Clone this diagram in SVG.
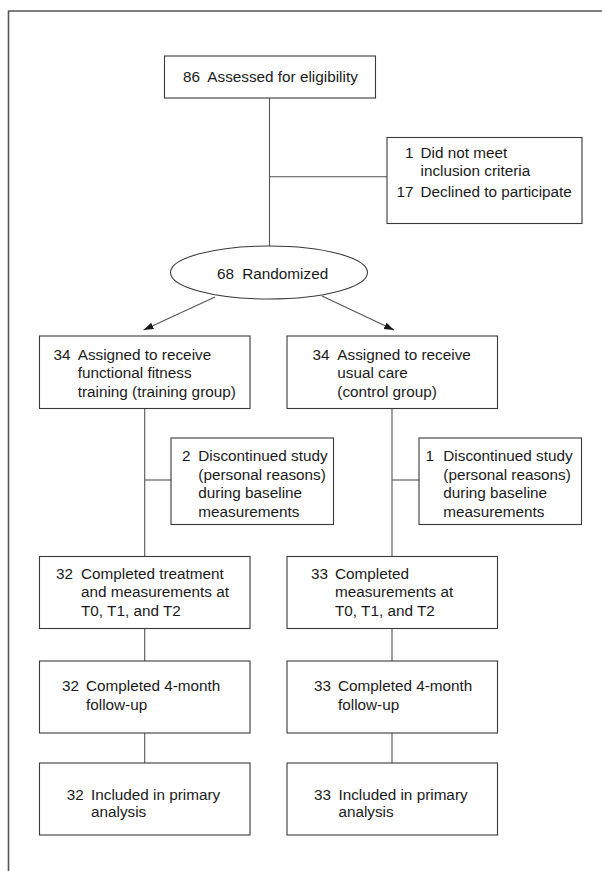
<svg xmlns="http://www.w3.org/2000/svg" width="602" height="871" viewBox="0 0 602 871">
<defs>
<style>
.box{fill:#fff;stroke:#3a3a3a;stroke-width:1.1}
.ln{fill:none;stroke:#555;stroke-width:1.1}
.frame{fill:none;stroke:#555;stroke-width:1.6}
text{font-family:"Liberation Sans",Arial,sans-serif;font-size:15.3px;fill:#1a1a1a}
.num{text-anchor:end}
</style>
<marker id="ah" markerUnits="userSpaceOnUse" markerWidth="11" markerHeight="8" refX="10" refY="3.5" orient="auto">
<path d="M0,0 L10,3.5 L0,7 z" fill="#1a1a1a"/>
</marker>
</defs>
<rect width="602" height="871" fill="#fff"/>
<path class="frame" d="M602,11 H8.5 V871"/>

<g id="connectors">
<path class="ln" d="M269.5,98 V246"/>
<path class="ln" d="M269.5,176.7 H387"/>
<path class="ln" d="M215,297 L143.5,330" marker-end="url(#ah)"/>
<path class="ln" d="M322,296 L394,330" marker-end="url(#ah)"/>
<path class="ln" d="M144.7,408.5 V556.5"/>
<path class="ln" d="M144.7,480 H171"/>
<path class="ln" d="M392,408.5 V556.5"/>
<path class="ln" d="M392,480 H419"/>
<path class="ln" d="M144.7,628.5 V661"/>
<path class="ln" d="M392,628.5 V661"/>
<path class="ln" d="M144.7,733 V763"/>
<path class="ln" d="M392,733 V763"/>
</g>

<g id="assessed">
<rect class="box" x="164.5" y="56" width="211" height="42"/>
<text class="num" x="200" y="82">86</text>
<text x="207.3" y="82">Assessed for eligibility</text>
</g>

<g id="excluded">
<rect class="box" x="387" y="137.5" width="195" height="86"/>
<text class="num" x="413.5" y="157.5">1</text>
<text x="420.5" y="157.5">Did not meet</text>
<text x="420.5" y="176">inclusion criteria</text>
<text class="num" x="413.5" y="197">17</text>
<text x="420.5" y="197">Declined to participate</text>
</g>

<g id="randomized">
<ellipse class="box" cx="269" cy="272.5" rx="98.5" ry="26.5"/>
<text class="num" x="234" y="278.5">68</text>
<text x="242.3" y="278.5">Randomized</text>
</g>

<g id="assigned-training">
<rect class="box" x="39.5" y="336" width="210.5" height="72.5"/>
<text class="num" x="70.5" y="359.5">34</text>
<text x="77.7" y="359.5">Assigned to receive</text>
<text x="77.7" y="378">functional fitness</text>
<text x="77.7" y="396.5">training (training group)</text>
</g>

<g id="assigned-control">
<rect class="box" x="287" y="336" width="210.5" height="72.5"/>
<text class="num" x="329.5" y="359.5">34</text>
<text x="337.3" y="359.5">Assigned to receive</text>
<text x="337.3" y="378">usual care</text>
<text x="337.3" y="396.5">(control group)</text>
</g>

<g id="discontinued-training">
<rect class="box" x="171" y="438" width="162.5" height="86.5"/>
<text class="num" x="190.5" y="461">2</text>
<text x="198.3" y="461">Discontinued study</text>
<text x="198.3" y="479.5">(personal reasons)</text>
<text x="198.3" y="498">during baseline</text>
<text x="198.3" y="516.5">measurements</text>
</g>

<g id="discontinued-control">
<rect class="box" x="419" y="438" width="162.5" height="86.5"/>
<text class="num" x="434" y="461">1</text>
<text x="443.3" y="461">Discontinued study</text>
<text x="443.3" y="479.5">(personal reasons)</text>
<text x="443.3" y="498">during baseline</text>
<text x="443.3" y="516.5">measurements</text>
</g>

<g id="completed-training">
<rect class="box" x="39.5" y="556.5" width="210.5" height="72"/>
<text class="num" x="73" y="579">32</text>
<text x="81" y="579">Completed treatment</text>
<text x="81" y="597">and measurements at</text>
<text x="81" y="615.5">T0, T1, and T2</text>
</g>

<g id="completed-control">
<rect class="box" x="287" y="556.5" width="210.5" height="72"/>
<text class="num" x="328" y="579">33</text>
<text x="335" y="579">Completed</text>
<text x="335" y="597">measurements at</text>
<text x="335" y="615.5">T0, T1, and T2</text>
</g>

<g id="followup-training">
<rect class="box" x="39.5" y="661" width="210.5" height="72"/>
<text class="num" x="79" y="691">32</text>
<text x="86" y="691">Completed 4-month</text>
<text x="86" y="709.5">follow-up</text>
</g>

<g id="followup-control">
<rect class="box" x="287" y="661" width="210.5" height="72"/>
<text class="num" x="331" y="691">33</text>
<text x="338" y="691">Completed 4-month</text>
<text x="338" y="709.5">follow-up</text>
</g>

<g id="analysis-training">
<rect class="box" x="39.5" y="763" width="210.5" height="72"/>
<text class="num" x="83.7" y="799.5">32</text>
<text x="91" y="799.5">Included in primary</text>
<text x="91" y="817">analysis</text>
</g>

<g id="analysis-control">
<rect class="box" x="287" y="763" width="210.5" height="72"/>
<text class="num" x="331" y="799.5">33</text>
<text x="338.4" y="799.5">Included in primary</text>
<text x="338.4" y="817">analysis</text>
</g>
</svg>
